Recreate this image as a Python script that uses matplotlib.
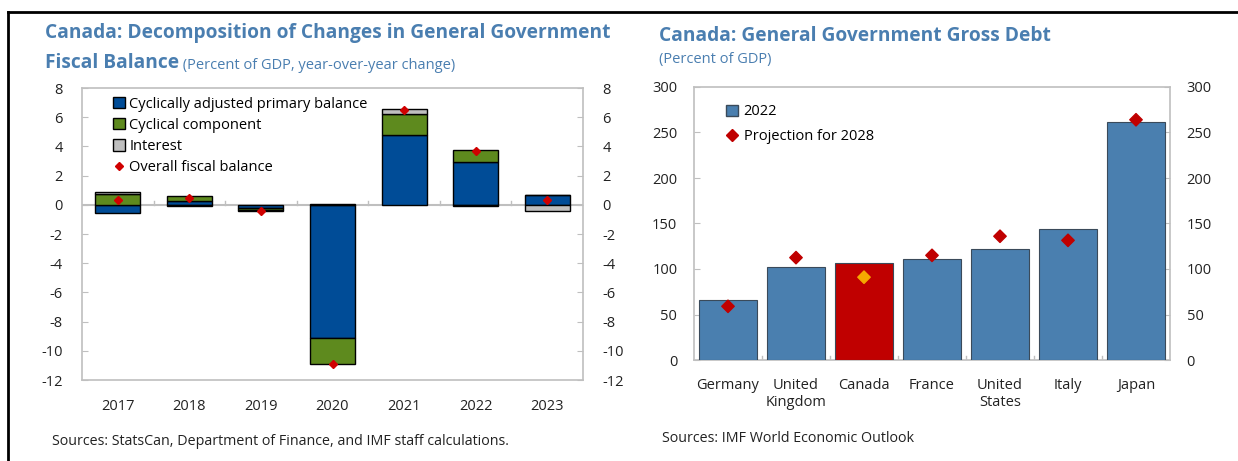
import matplotlib.pyplot as plt
import numpy as np
from matplotlib.lines import Line2D
from matplotlib.patches import Patch

plt.rcParams['font.family'] = ['Open Sans', 'DejaVu Sans']
plt.rcParams['axes.unicode_minus'] = False

# left panel: fiscal balance decomposition
years = ['2017', '2018', '2019', '2020', '2021', '2022', '2023']
cyc_adj_primary = [-0.57, 0.25, -0.25, -9.15, 4.75, 2.92, 0.65]
cyclical = [0.75, 0.32, -0.10, -1.78, 1.50, 0.85, 0.04]
interest = [0.15, -0.10, -0.05, 0.05, 0.30, -0.10, -0.40]
overall = [0.35, 0.48, -0.42, -10.9, 6.5, 3.7, 0.3]

# right panel: gross debt
countries = ['Germany', 'United\nKingdom', 'Canada', 'France', 'United\nStates', 'Italy', 'Japan']
debt_2022 = [66, 102, 106.5, 111, 121.5, 144.5, 261]
debt_2028 = [59, 112.5, 91, 115, 136, 131.5, 264]

TITLE = '#4A7EB0'
GRID = '#BFBFBF'
TXT = '#222222'

fig = plt.figure(figsize=(12.38, 4.61), dpi=100)

# frame lines of the page
fig.add_artist(Line2D([8/1238, 1], [1 - 12/461] * 2, color='black', lw=2))
fig.add_artist(Line2D([8/1238] * 2, [0, 1 - 12/461], color='black', lw=2))

# ---------- left chart ----------
ax = fig.add_axes([82/1238, 1 - 380/461, 501/1238, 292/461])
x = np.arange(len(years))
w = 0.63
pos_base = np.zeros(len(years))
neg_base = np.zeros(len(years))
series = [(cyc_adj_primary, '#004C97', 'Cyclically adjusted primary balance'),
          (cyclical, '#5E8A1E', 'Cyclical component'),
          (interest, '#BFBFBF', 'Interest')]
handles = []
for vals, col, lab in series:
    vals = np.array(vals)
    base = np.where(vals >= 0, pos_base, neg_base)
    ax.bar(x, vals, w, bottom=base, color=col, edgecolor='black', linewidth=1, zorder=3)
    pos_base = pos_base + np.where(vals >= 0, vals, 0)
    neg_base = neg_base + np.where(vals < 0, vals, 0)
    handles.append(Patch(facecolor=col, edgecolor='black', label=lab))
ax.plot(x, overall, 'D', color='#D00000', ms=4.5, zorder=5)
handles.append(Line2D([], [], marker='D', color='#D00000', ls='none', ms=4.5,
                      label='Overall fiscal balance'))
ax.axhline(0, color=GRID, lw=1.5, zorder=2)
for b in np.arange(0.5, len(years) - 1):
    ax.plot([b, b], [0, 0.25], color=GRID, lw=1, zorder=2)
ax.set_xlim(-0.5, len(years) - 0.5)
ax.set_ylim(-12, 8)
ax.set_yticks(range(-12, 9, 2))
ax.set_xticks(x)
ax.set_xticklabels(years)
ax.tick_params(axis='x', length=0, pad=14, labelsize=10.5, colors=TXT)
ax.tick_params(axis='y', direction='in', length=4, color=GRID, labelsize=10.5,
               labelcolor=TXT, left=True, right=True, labelleft=True, labelright=True, pad=14)
for s in ax.spines.values():
    s.set_color(GRID)
    s.set_linewidth(1.2)
ax.legend(handles=handles, loc='upper left', bbox_to_anchor=(0.045, 1.0), frameon=False,
          fontsize=10.5, handlelength=0.8, handleheight=0.8, handletextpad=0.3,
          labelspacing=0.42, borderaxespad=0.2)

t1 = fig.text(45/1238, 1 - 33/461, 'Canada: Decomposition of Changes in General Government',
              color=TITLE, fontsize=13.8, fontweight='bold', va='center')
t2 = fig.text(45/1238, 1 - 63/461, 'Fiscal Balance', color=TITLE, fontsize=13.8,
              fontweight='bold', va='center')
fig.text(52/1238, 1 - 441/461, 'Sources: StatsCan, Department of Finance, and IMF staff calculations.',
         fontsize=10.3, color=TXT, va='center')

# ---------- right chart ----------
ax2 = fig.add_axes([694/1238, 1 - 360/461, 476/1238, 273/461])
xc = np.arange(len(countries))
cols = ['#4A7FAF'] * len(countries)
mcols = ['#C00000'] * len(countries)
ci = countries.index('Canada')
cols[ci] = '#C00000'
mcols[ci] = '#F5A800'
ax2.bar(xc, debt_2022, 0.84, color=cols, edgecolor='#3A4A5A', linewidth=0.8, zorder=3)
ax2.scatter(xc, debt_2028, marker='D', c=mcols, s=40, zorder=5)
for b in np.arange(0.5, len(countries) - 1):
    ax2.plot([b, b], [0, 4], color=GRID, lw=1, zorder=2)
ax2.set_xlim(-0.5, len(countries) - 0.5)
ax2.set_ylim(0, 300)
ax2.set_yticks(range(0, 301, 50))
ax2.set_xticks(xc)
ax2.set_xticklabels(countries)
ax2.tick_params(axis='x', length=0, pad=13, labelsize=10.5, colors=TXT)
ax2.tick_params(axis='y', direction='in', length=4, color=GRID, labelsize=10.5,
                labelcolor=TXT, left=True, right=True, labelleft=True, labelright=True, pad=12)
for s in ax2.spines.values():
    s.set_color(GRID)
    s.set_linewidth(1.2)
h2 = [Patch(facecolor='#4A7FAF', edgecolor='#3A4A5A', label='2022'),
      Line2D([], [], marker='D', color='#C00000', ls='none', ms=6, label='Projection for 2028')]
ax2.legend(handles=h2, loc='upper left', bbox_to_anchor=(0.04, 0.985), frameon=False,
           fontsize=10.5, handlelength=0.8, handleheight=0.8, handletextpad=0.4,
           labelspacing=0.7)

fig.text(659/1238, 1 - 36/461, 'Canada: General Government Gross Debt', color=TITLE,
         fontsize=13.8, fontweight='bold', va='center')
fig.text(659/1238, 1 - 59/461, '(Percent of GDP)', color=TITLE, fontsize=10.5, va='center')
fig.text(662/1238, 1 - 438/461, 'Sources: IMF World Economic Outlook', fontsize=10.3,
         color=TXT, va='center')

fig.canvas.draw()
ax.annotate(' (Percent of GDP, year-over-year change)', xy=(1, 0), xycoords=t2,
            va='bottom', ha='left', color=TITLE, fontsize=10.5)

fig.savefig('out.png', dpi=100)
